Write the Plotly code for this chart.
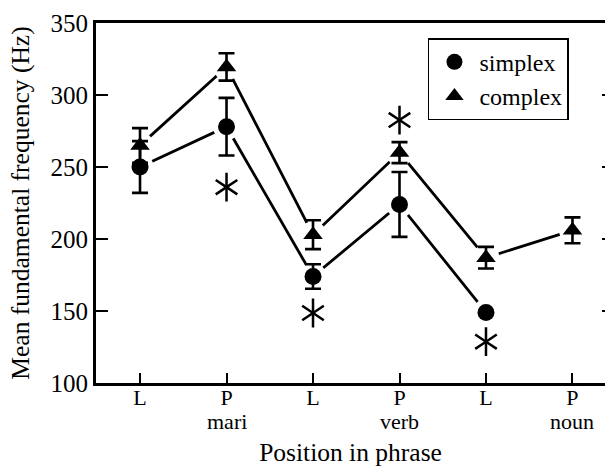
import plotly.graph_objects as go

# ---- data ----
positions = [0, 1, 2, 3, 4, 5]
tick_top = ["L", "P", "L", "P", "L", "P"]
tick_bottom = ["", "mari", "", "verb", "", "noun"]

simplex_x = [0, 1, 2, 3, 4]
simplex_y = [250, 278, 174, 224, 149]
simplex_err = [18, 20, 8.5, 22.5, 0]

complex_x = [0, 1, 2, 3, 4, 5]
complex_y = [265, 319.5, 203, 260, 187, 206]
complex_err = [12, 9.5, 10, 7.3, 7.5, 9]

star_x = [1, 2, 3, 4]
star_y = [236, 148.6, 282.6, 128.7]

FONT = "Liberation Serif"
LW = 2.8

fig = go.Figure()

# connecting lines with white masks around points (gaps like the original)
for xs, ys in [(simplex_x, simplex_y), (complex_x, complex_y)]:
    fig.add_trace(go.Scatter(
        x=xs, y=ys, mode="lines+markers", showlegend=False, hoverinfo="skip",
        line=dict(color="black", width=LW),
        marker=dict(symbol="circle", size=27, color="white", line=dict(width=0)),
    ))

err_style = dict(type="data", visible=True, color="black", thickness=2.6, width=8)

fig.add_trace(go.Scatter(
    x=simplex_x, y=simplex_y, mode="markers", name="simplex",
    marker=dict(symbol="circle", size=17, color="black"),
    error_y=dict(array=simplex_err, **err_style),
))
fig.add_trace(go.Scatter(
    x=complex_x, y=complex_y, mode="markers", name="complex",
    marker=dict(symbol="triangle-up", size=17, color="black"),
    error_y=dict(array=complex_err, **err_style),
))

# significance asterisks (6-armed: y-up + y-down)
for sym in ["y-up-open", "y-down-open"]:
    fig.add_trace(go.Scatter(
        x=star_x, y=star_y, mode="markers", showlegend=False, hoverinfo="skip",
        marker=dict(symbol=sym, size=18, color="black", line=dict(color="black", width=2.5)),
    ))

# second line of the category labels
for xv, t in zip(positions, tick_bottom):
    if t:
        fig.add_annotation(x=xv, xref="x", y=-0.106, yref="paper", text=t,
                           showarrow=False, yanchor="middle",
                           font=dict(family=FONT, size=22, color="black"))

fig.update_layout(
    width=605, height=467,
    margin=dict(l=96, r=0, t=23, b=84),
    paper_bgcolor="white", plot_bgcolor="white",
    font=dict(family=FONT, color="black"),
    legend=dict(x=0.652, y=0.958, xanchor="left", yanchor="top",
                bordercolor="black", borderwidth=1.6, bgcolor="white",
                font=dict(family=FONT, size=24, color="black"),
                itemwidth=40, tracegroupgap=0),
    xaxis=dict(range=[-0.509, 5.376], tickmode="array", tickvals=positions,
               ticktext=tick_top, ticks="inside", ticklen=10, tickwidth=2.4,
               tickcolor="black", showline=True, linecolor="black", linewidth=2.8,
               mirror=True, showgrid=False, zeroline=False, ticklabelstandoff=-7,
               tickfont=dict(family=FONT, size=22, color="black"),
               title=dict(text="Position in phrase", standoff=39,
                          font=dict(family=FONT, size=25.5, color="black")),
               automargin=False),
    yaxis=dict(range=[100, 350], tickvals=[100, 150, 200, 250, 300, 350],
               ticks="inside", ticklen=12, tickwidth=2.4, tickcolor="black",
               showline=True, linecolor="black", linewidth=2.8,
               showgrid=False, zeroline=False,
               tickfont=dict(family=FONT, size=25, color="black"),
               title=dict(text="Mean fundamental frequency (Hz)", standoff=14,
                          font=dict(family=FONT, size=25.5, color="black")),
               automargin=False),
    yaxis2=dict(range=[100, 350], overlaying="y", side="right",
                tickvals=[100, 150, 200, 250, 300, 350], showticklabels=False,
                ticks="inside", ticklen=3, tickwidth=2, tickcolor="black",
                showline=False, showgrid=False, zeroline=False),
)
# dummy trace to activate the right-side tick axis
fig.add_trace(go.Scatter(x=[None], y=[None], yaxis="y2", showlegend=False, hoverinfo="skip"))

fig.write_html("out.html", config={"displayModeBar": False},
               post_script="document.body.style.margin='0px';")
